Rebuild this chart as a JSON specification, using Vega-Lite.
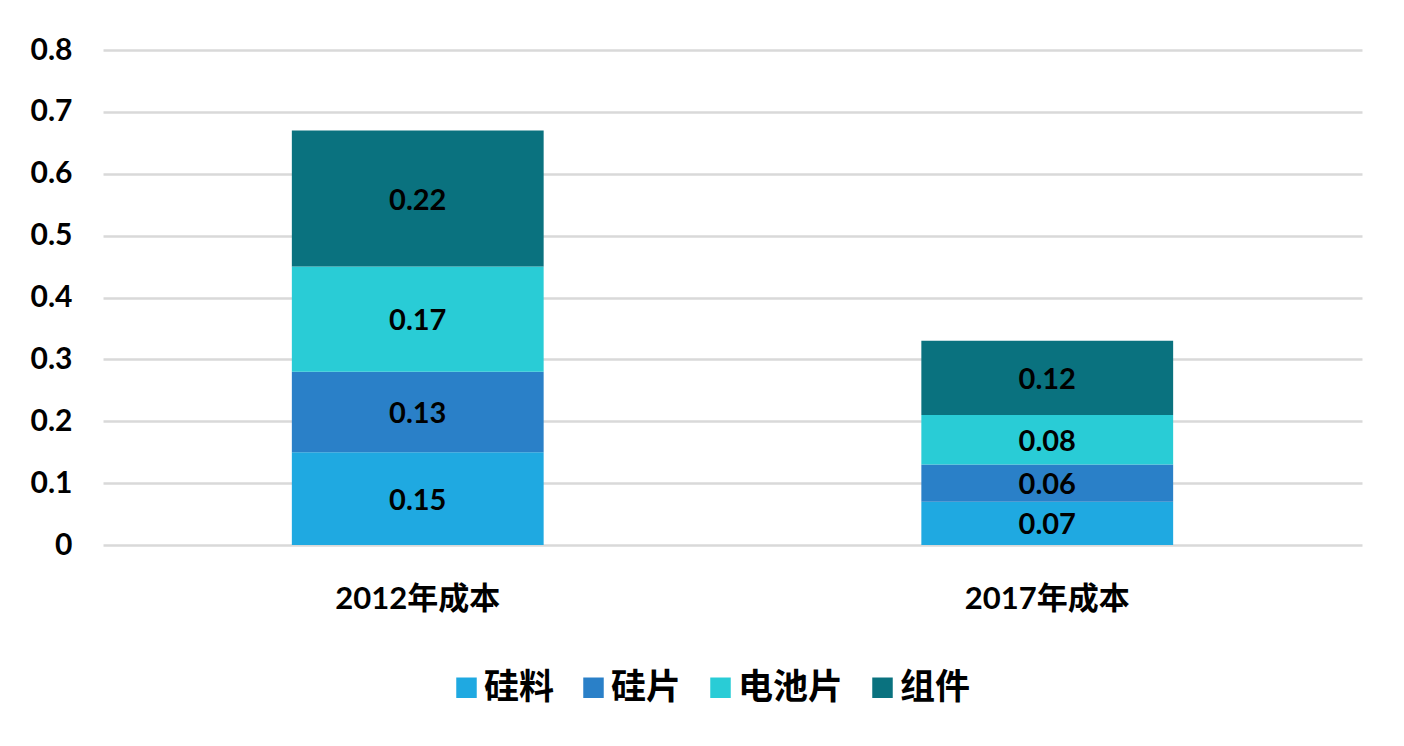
{
  "$schema": "https://vega.github.io/schema/vega-lite/v6.json",
  "width": 1259,
  "height": 495,
  "padding": {"left": 103, "top": 50, "right": 42, "bottom": 201},
  "autosize": {"type": "none"},
  "background": "white",
  "config": {
    "view": {"stroke": null},
    "font": "Lato, Noto Sans CJK SC"
  },
  "data": {
    "values": [
      {"year": "2012年成本", "part": "硅料", "idx": 1, "value": 0.15},
      {"year": "2012年成本", "part": "硅片", "idx": 2, "value": 0.13},
      {"year": "2012年成本", "part": "电池片", "idx": 3, "value": 0.17},
      {"year": "2012年成本", "part": "组件", "idx": 4, "value": 0.22},
      {"year": "2017年成本", "part": "硅料", "idx": 1, "value": 0.07},
      {"year": "2017年成本", "part": "硅片", "idx": 2, "value": 0.06},
      {"year": "2017年成本", "part": "电池片", "idx": 3, "value": 0.08},
      {"year": "2017年成本", "part": "组件", "idx": 4, "value": 0.12}
    ]
  },
  "transform": [
    {"stack": "value", "groupby": ["year"], "sort": [{"field": "idx", "order": "ascending"}], "as": ["v0", "v1"]},
    {"calculate": "(datum.v0 + datum.v1) / 2", "as": "mid"}
  ],
  "encoding": {
    "x": {
      "field": "year",
      "type": "nominal",
      "title": null,
      "scale": {"paddingInner": 0.6, "paddingOuter": 0.3},
      "axis": {
        "labelAngle": 0,
        "domain": false,
        "ticks": false,
        "labelFont": "Lato, Noto Sans CJK SC",
        "labelFontSize": 31,
        "labelFontWeight": "bold",
        "labelColor": "#000000",
        "labelPadding": 39
      }
    }
  },
  "layer": [
    {
      "mark": {"type": "bar"},
      "encoding": {
        "y": {
          "field": "v0",
          "type": "quantitative",
          "title": null,
          "scale": {"domain": [0, 0.8]},
          "axis": {
            "values": [0, 0.1, 0.2, 0.3, 0.4, 0.5, 0.6, 0.7, 0.8],
            "format": "~g",
            "domain": false,
            "ticks": false,
            "gridColor": "#d9d9d9",
            "gridWidth": 2.5,
            "gridOpacity": 1,
            "labelFont": "Lato",
            "labelFontSize": 30,
            "labelFontWeight": "bold",
            "labelColor": "#000000",
            "labelPadding": 31
          }
        },
        "y2": {"field": "v1"},
        "color": {
          "field": "part",
          "type": "nominal",
          "scale": {
            "domain": ["硅料", "硅片", "电池片", "组件"],
            "range": ["#1fa9e1", "#2a80c8", "#29ccd6", "#0a727f"]
          },
          "legend": {
            "title": null,
            "orient": "none",
            "direction": "horizontal",
            "legendX": 346,
            "legendY": 620,
            "symbolType": "square",
            "symbolSize": 420,
            "symbolStrokeWidth": 0,
            "symbolOpacity": 1,
            "labelFont": "Noto Sans CJK SC",
            "labelFontSize": 35,
            "labelFontWeight": "bold",
            "labelColor": "#000000",
            "labelOffset": 0,
            "columnPadding": 21,
            "labelLimit": 300
          }
        }
      }
    },
    {
      "mark": {"type": "text", "font": "Lato", "fontSize": 29, "fontWeight": "bold", "color": "#000000", "baseline": "middle", "dy": 2},
      "encoding": {
        "y": {"field": "mid", "type": "quantitative"},
        "text": {"field": "value", "type": "quantitative", "format": ".2f"}
      }
    }
  ]
}
